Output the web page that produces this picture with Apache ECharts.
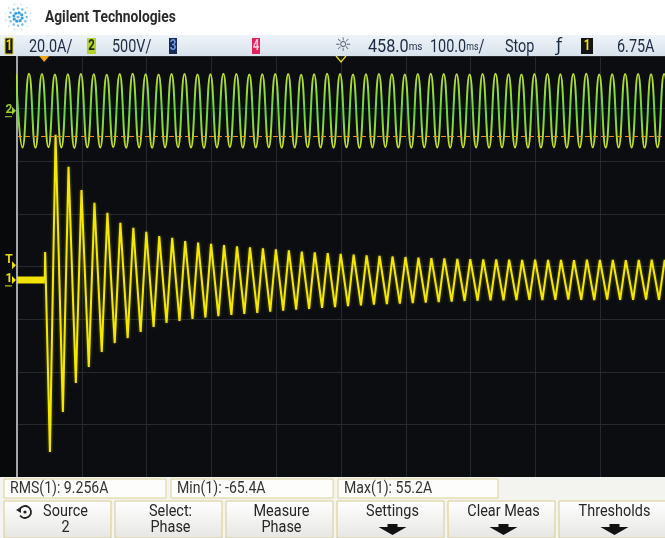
<!DOCTYPE html>
<html>
<head>
<meta charset="utf-8">
<script src="https://cdn.jsdelivr.net/npm/echarts@6/dist/echarts.min.js"></script>
<style>
  html, body { margin: 0; padding: 0; background: #ffffff; }
  #scope { width: 665px; height: 538px; }
</style>
</head>
<body>
<div id="scope"></div>
<script>
// ---- Channel 1: inrush current (A), one trough and one peak per mains cycle ----
const ch1TroughsA = [-65.4, -50.2, -39.2, -33.1, -27.4, -24.0, -22.1, -19.8, -17.9, -16.3,
  -15.6, -14.8, -14.3, -13.8, -13.3, -12.9, -12.5, -12.1, -11.7, -11.3,
  -11.0, -10.6, -10.3, -10.0, -9.7, -9.4, -9.2, -9.0, -8.8, -8.6,
  -8.4, -8.2, -8.0, -7.9, -7.8, -7.8, -7.7, -7.6, -7.7, -7.6,
  -7.5, -7.6, -7.7, -7.5, -7.6, -7.6, -7.5, -7.6, -7.6];
const ch1PeaksA = [55.2, 43.0, 34.2, 29.3, 25.5, 21.7, 19.8, 18.3, 16.7, 16.0,
  14.8, 14.2, 13.7, 13.2, 12.8, 12.4, 12.0, 11.6, 11.2, 10.8,
  10.5, 10.2, 9.9, 9.6, 9.3, 9.1, 8.9, 8.7, 8.5, 8.3,
  8.2, 8.0, 7.9, 7.8, 7.8, 7.7, 7.6, 7.7, 7.6, 7.6,
  7.5, 7.7, 7.6, 7.6, 7.5, 7.6, 7.7, 7.6];
const ch1PreTriggerA = [[-42, 0], [1.0, 0]];   // idle current before switch-on
const ch1KickA = 10.6;                          // first step right at the trigger
const ch1FirstTroughMs = 8.8;
const ch1FirstPeakMs = 17.5;

// ---- Channel 2: mains voltage (V), one peak and one trough per cycle ----
const ch2PeaksV = [348, 352, 350, 344, 346, 350, 347, 343, 349, 351,
  346, 345, 350, 348, 344, 347, 351, 349, 345, 346,
  350, 348, 343, 347, 352, 349, 345, 346, 350, 347,
  344, 348, 351, 349, 346, 345, 350, 352, 347, 344,
  348, 350, 346, 349, 351, 345, 347, 350, 348, 346, 349];
const ch2TroughsV = [-350, -352, -347, -349, -353, -348, -350, -346, -351, -349,
  -352, -348, -347, -350, -353, -349, -346, -351, -350, -348,
  -352, -349, -347, -350, -351, -348, -353, -349, -346, -350,
  -352, -348, -349, -351, -347, -350, -352, -348, -349, -351,
  -350, -347, -352, -349, -348, -351, -350, -349, -352, -348, -350];
const ch2FirstPeakMs = -43.5;
const ch2FirstTroughMs = -33.5;
const ch2ThresholdV = -240;                     // dashed measurement level
const mainsCycleMs = 20;

// ---- Scope settings ----
const timePerDivMs = 100, delayMs = 458.0, hDivs = 10, vDivs = 8;
const ch1PerDivA = 20, ch1CenterA = 5.1;
const ch2PerDivV = 500, ch2CenterV = -1480;
const triggerLevelA = 6.75;

// ---- Texts ----
const brandText = 'Agilent Technologies';
const statusTexts = ['20.0A/', '500V/', '458.0', '100.0', 'Stop', '6.75A'];
const measureTexts = ['RMS(1): 9.256A', 'Min(1): -65.4A', 'Max(1): 55.2A'];
const softkeyTexts = [['Source', '2'], ['Select:', 'Phase'], ['Measure', 'Phase'],
  ['Settings', ''], ['Clear Meas', ''], ['Thresholds', '']];
const softkeyArrows = [false, false, false, true, true, true];

const UI_FONT = "Roboto, 'Liberation Sans', sans-serif";

// Build zig-zag vertex lists from the per-cycle extremes
function ch1Points() {
  const pts = [[1.0, 0], [1.4, ch1KickA]];
  for (let k = 0; k < ch1TroughsA.length; k++) {
    pts.push([ch1FirstTroughMs + k * mainsCycleMs, ch1TroughsA[k]]);
    if (k < ch1PeaksA.length) pts.push([ch1FirstPeakMs + k * mainsCycleMs, ch1PeaksA[k]]);
  }
  return pts;
}
function ch2Points() {
  const pts = [];
  for (let k = 0; k < ch2PeaksV.length; k++) {
    pts.push([ch2FirstPeakMs + k * mainsCycleMs, ch2PeaksV[k]]);
    if (k < ch2TroughsV.length) pts.push([ch2FirstTroughMs + k * mainsCycleMs, ch2TroughsV[k]]);
  }
  return pts;
}

const leftMs = delayMs - timePerDivMs * hDivs / 2;
const rightMs = delayMs + timePerDivMs * hDivs / 2;

const chart = echarts.init(document.getElementById('scope'), null, { renderer: 'canvas', width: 665, height: 538 });

const gridLine = { show: true, lineStyle: { color: '#262a2e', width: 1 } };

chart.setOption({
  animation: false,
  grid: { left: 17, top: 56, width: 650, height: 421, show: true, backgroundColor: '#0b0d10', borderWidth: 0 },
  xAxis: [
    { type: 'value', min: 0, max: hDivs, interval: 1, axisLine: { show: false }, axisTick: { show: false },
      axisLabel: { show: false }, splitLine: gridLine },
    { type: 'value', min: leftMs, max: rightMs, show: false }
  ],
  yAxis: [
    { type: 'value', min: 0, max: vDivs, interval: 1, axisLine: { show: true, lineStyle: { color: '#a4a6a8', width: 2 } },
      axisTick: { show: false }, axisLabel: { show: false }, splitLine: gridLine },
    { type: 'value', min: ch1CenterA - ch1PerDivA * vDivs / 2, max: ch1CenterA + ch1PerDivA * vDivs / 2, show: false },
    { type: 'value', min: ch2CenterV - ch2PerDivV * vDivs / 2, max: ch2CenterV + ch2PerDivV * vDivs / 2, show: false }
  ],
  series: [
    {
      name: 'ch2', type: 'line', xAxisIndex: 1, yAxisIndex: 2, data: ch2Points(),
      symbol: 'none', smooth: 0.5, z: 3,
      lineStyle: {
        width: 2,
        color: new echarts.graphic.LinearGradient(0, 0, 0, 1, [
          { offset: 0, color: '#c4e030' }, { offset: 0.5, color: '#62d640' }, { offset: 1, color: '#d0e024' }
        ])
      },
      markLine: {
        silent: true, symbol: 'none', label: { show: false }, animation: false,
        lineStyle: { color: '#e8901c', type: [5, 3], width: 1 },
        data: [{ yAxis: ch2ThresholdV }]
      }
    },
    {
      name: 'ch1 idle', type: 'line', xAxisIndex: 1, yAxisIndex: 1, data: ch1PreTriggerA,
      symbol: 'none', z: 4, lineStyle: { width: 7, color: '#f2e400', cap: 'butt' }
    },
    {
      name: 'ch1', type: 'line', xAxisIndex: 1, yAxisIndex: 1, data: ch1Points(),
      symbol: 'none', z: 5,
      lineStyle: { width: 2, color: '#f4e800', shadowBlur: 3, shadowColor: 'rgba(240,230,0,0.45)' }
    }
  ]
});

// ---- Frame: header, status line, ground / trigger markers, measurements, softkeys ----
const px1Zero = chart.convertToPixel({ yAxisIndex: 1 }, 0);
const px1Trig = chart.convertToPixel({ yAxisIndex: 1 }, triggerLevelA);
const px2Zero = chart.convertToPixel({ yAxisIndex: 2 }, 0);
const pxTrigT = chart.convertToPixel({ xAxisIndex: 1 }, 0);
const pxDelay = chart.convertToPixel({ xAxisIndex: 1 }, delayMs);

const g = [];
// condensed text: regular font squeezed horizontally around its anchor
function ctext(x, y, text, size, color, opts) {
  opts = opts || {};
  const style = { text: text, font: (opts.weight || 'normal') + ' ' + size + 'px ' + UI_FONT, fill: color,
    align: opts.align || 'left', verticalAlign: 'middle' };
  if (opts.rich) style.rich = opts.rich;
  g.push({ type: 'text', x: x, y: y, scaleX: opts.sx || 0.82, style: style, z: opts.z || 12 });
}

// header
g.push({ type: 'rect', shape: { x: 0, y: 0, width: 665, height: 35 }, style: { fill: '#ffffff' }, z: 10 });
const logoC = [18, 17];
for (let ring = 1; ring <= 3; ring++) {
  const n = ring === 1 ? 8 : 12;
  for (let a = 0; a < n; a++) {
    const ang = (a / n) * Math.PI * 2 + ring * 0.26;
    const r = ring * 4.3;
    g.push({ type: 'circle', shape: { cx: logoC[0] + r * Math.cos(ang), cy: logoC[1] + r * Math.sin(ang), r: 2.0 - ring * 0.4 },
      style: { fill: ring === 1 ? '#3c9ee0' : (ring === 2 ? '#6cb8ea' : '#a8d6f4') }, z: 11 });
  }
}
g.push({ type: 'circle', shape: { cx: logoC[0], cy: logoC[1], r: 1.6 }, style: { fill: '#6cb8ea' }, z: 11 });
ctext(45, 18, brandText, 16, '#2a2a2a', { weight: 'bold', sx: 0.86, z: 11 });

// status line
g.push({ type: 'rect', shape: { x: 0, y: 35, width: 665, height: 21 },
  style: { fill: new echarts.graphic.LinearGradient(0, 0, 0, 1, [{ offset: 0, color: '#eef3f8' }, { offset: 1, color: '#d8e2ec' }]) }, z: 10 });
function chBox(x, w, fill, digit, digitColor, stroke) {
  g.push({ type: 'rect', shape: { x: x, y: 38, width: w, height: 16 }, style: { fill: fill, stroke: stroke || null, lineWidth: 1 }, z: 11 });
  ctext(x + w / 2, 46.5, digit, 14, digitColor, { weight: 'bold', align: 'center' });
}
const SC = '#1c2a44';
const msRich = { n: { font: '18px ' + UI_FONT, fill: SC }, u: { font: '11px ' + UI_FONT, fill: SC } };
chBox(5, 8, '#141414', '1', '#f4e400', '#d8cc20');
ctext(29, 47, statusTexts[0], 18, SC, { sx: 0.8 });
chBox(87, 9, '#b4d42c', '2', '#1a2a10');
ctext(112, 47, statusTexts[1], 18, SC, { sx: 0.8 });
chBox(169, 8, '#1a2a50', '3', '#6a9ae0');
chBox(252, 8, '#e2205c', '4', '#ffc4d4');
g.push({ type: 'text', x: 343, y: 46, style: { text: '☼', font: '19px DejaVu Sans', fill: '#5a6270', align: 'center', verticalAlign: 'middle' }, z: 11 });
ctext(368, 47, '{n|' + statusTexts[2] + '}{u|ms}', 18, SC, { sx: 0.9, rich: msRich });
ctext(430, 47, '{n|' + statusTexts[3] + '}{u|ms}{n|/}', 18, SC, { sx: 0.8, rich: msRich });
ctext(505, 47, statusTexts[4], 18, SC, { sx: 0.8 });
g.push({ type: 'text', x: 559, y: 46.5, style: { text: 'ƒ', font: '17px DejaVu Sans', fill: SC, align: 'center', verticalAlign: 'middle' }, z: 11 });
chBox(581, 12, '#141414', '1', '#f4e400');
ctext(617, 47, statusTexts[5], 18, SC, { sx: 0.8 });

// left strip of the display
g.push({ type: 'rect', shape: { x: 0, y: 56, width: 16, height: 421 }, style: { fill: '#08090b' }, z: 1 });

// ground and trigger markers
ctext(9, px2Zero - 1, '2', 12, '#9ed030', { weight: 'bold', align: 'center', sx: 1 });
g.push({ type: 'polygon', shape: { points: [[12, px2Zero - 4], [16, px2Zero], [12, px2Zero + 4]] }, style: { fill: '#9ed030' }, z: 12 });
g.push({ type: 'line', shape: { x1: 5, y1: px2Zero + 6, x2: 12, y2: px2Zero + 6 }, style: { stroke: '#9ed030', lineWidth: 1 }, z: 12 });
ctext(9, px1Trig - 2, 'T', 12, '#e8dc10', { weight: 'bold', align: 'center', sx: 1 });
g.push({ type: 'polygon', shape: { points: [[12, px1Trig - 1], [16, px1Trig + 3], [12, px1Trig + 7]] }, style: { fill: '#e8dc10' }, z: 12 });
ctext(9, px1Zero - 1, '1', 12, '#f0e400', { weight: 'bold', align: 'center', sx: 1 });
g.push({ type: 'polygon', shape: { points: [[12, px1Zero - 4], [16, px1Zero], [12, px1Zero + 4]] }, style: { fill: '#f0e400' }, z: 12 });
g.push({ type: 'line', shape: { x1: 5, y1: px1Zero + 6, x2: 12, y2: px1Zero + 6 }, style: { stroke: '#f0e400', lineWidth: 1 }, z: 12 });
g.push({ type: 'polygon', shape: { points: [[pxTrigT - 5, 56], [pxTrigT + 5, 56], [pxTrigT, 62]] }, style: { fill: '#f0a418' }, z: 12 });
g.push({ type: 'polyline', shape: { points: [[pxDelay - 5, 56], [pxDelay, 62], [pxDelay + 5, 56]] }, style: { stroke: '#e8dc20', lineWidth: 1.3, fill: null }, z: 12 });

// measurement line
g.push({ type: 'rect', shape: { x: 0, y: 477, width: 665, height: 23 }, style: { fill: '#f3f3ef' }, z: 10 });
const measBoxes = [[4, 162], [171, 162], [338, 160]];
measBoxes.forEach((b, i) => {
  g.push({ type: 'rect', shape: { x: b[0], y: 479, width: b[1], height: 19 }, style: { fill: '#fdfdfb', stroke: '#ddd29a', lineWidth: 1 }, z: 11 });
  ctext(b[0] + 6, 489, measureTexts[i], 16, '#333333', { sx: 0.88 });
});

// softkeys
g.push({ type: 'rect', shape: { x: 0, y: 500, width: 665, height: 38 }, style: { fill: '#f4f4f2' }, z: 10 });
softkeyTexts.forEach((t, i) => {
  const x = 4 + 111 * i, w = 107, cx = x + w / 2 + 2;
  g.push({ type: 'rect', shape: { x: x, y: 501, width: w, height: 37 },
    style: { fill: new echarts.graphic.LinearGradient(0, 0, 0, 1, [{ offset: 0, color: '#ffffff' }, { offset: 1, color: '#e6e6e4' }]),
      stroke: '#d9cc8c', lineWidth: 1 }, z: 11 });
  const tx = i === 0 ? cx + 6 : cx;
  ctext(tx, 512, t[0], 17, '#262626', { align: 'center', sx: 0.85 });
  if (t[1]) ctext(tx, 528, t[1], 17, '#262626', { align: 'center', sx: 0.85 });
  if (softkeyArrows[i]) {
    g.push({ type: 'polygon', shape: { points: [[cx - 5, 524], [cx + 5, 524], [cx + 5, 527], [cx + 14, 527], [cx, 535], [cx - 14, 527], [cx - 5, 527]] },
      style: { fill: '#111111' }, z: 12 });
  }
});
// rotary-knob icon on the Source key
g.push({ type: 'arc', shape: { cx: 25, cy: 512, r: 6, startAngle: Math.PI * 1.2, endAngle: Math.PI * 0.8 }, style: { stroke: '#222', lineWidth: 1.8, fill: null }, z: 12 });
g.push({ type: 'polygon', shape: { points: [[16, 510], [21, 507], [21, 513]] }, style: { fill: '#222' }, z: 12 });
g.push({ type: 'circle', shape: { cx: 25, cy: 512, r: 1.6 }, style: { fill: '#222' }, z: 12 });

chart.setOption({ graphic: { elements: g } });
</script>
</body>
</html>
